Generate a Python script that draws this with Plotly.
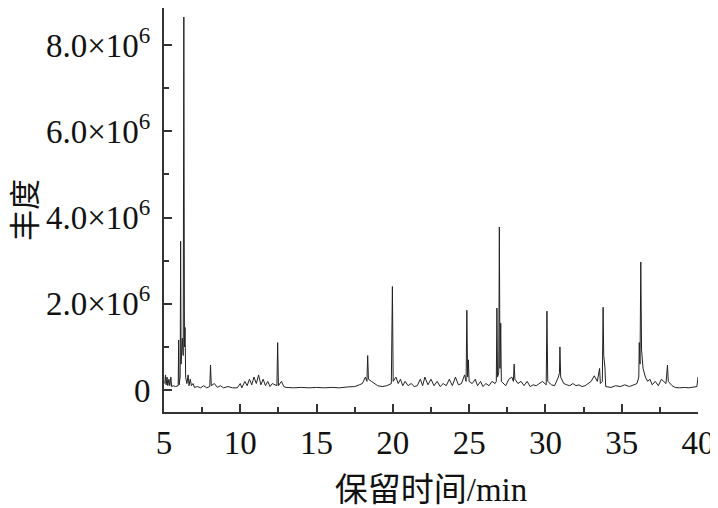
import plotly.graph_objects as go

# Retention time (min) and abundance (x1e6)
rt = [5.05, 5.1, 5.14, 5.2, 5.25, 5.32, 5.38, 5.45, 5.5, 5.6, 5.75, 5.93, 5.96, 5.99, 6.06, 6.09, 6.12, 6.2, 6.26, 6.3,
      6.34, 6.38, 6.42, 6.5, 6.58, 6.64, 6.72, 6.8, 6.9, 7.0, 7.2, 7.4, 7.6, 7.8, 8.0, 8.05, 8.1, 8.3, 8.5, 8.7,
      8.9, 9.2, 9.5, 9.8, 10.0, 10.1, 10.3, 10.45, 10.6, 10.75, 10.9, 11.05, 11.2, 11.35, 11.5, 11.65, 11.8, 11.95, 12.1, 12.4,
      12.45, 12.5, 12.7, 12.85, 13.0, 13.5, 14.0, 14.5, 15.0, 15.5, 16.0, 16.5, 17.0, 17.5, 17.8, 18.0, 18.2, 18.3, 18.35, 18.4,
      18.6, 18.8, 19.0, 19.3, 19.6, 19.9, 19.97, 20.02, 20.2, 20.35, 20.5, 20.65, 20.8, 21.0, 21.2, 21.4, 21.6, 21.8, 21.95, 22.1,
      22.3, 22.5, 22.7, 22.9, 23.1, 23.3, 23.5, 23.7, 23.9, 24.1, 24.3, 24.5, 24.7, 24.8, 24.85, 24.9, 24.95, 25.0, 25.2, 25.4,
      25.55, 25.75, 25.9, 26.1, 26.3, 26.5, 26.7, 26.78, 26.82, 26.86, 26.94, 26.98, 27.02, 27.07, 27.11, 27.4, 27.6, 27.8, 27.9, 27.95,
      28.0, 28.2, 28.4, 28.6, 28.8, 29.0, 29.2, 29.4, 29.6, 29.8, 30.05, 30.1, 30.15, 30.4, 30.6, 30.85, 30.92, 30.95, 31.0, 31.2,
      31.4, 31.6, 31.8, 32.0, 32.2, 32.4, 32.6, 32.8, 33.0, 33.2, 33.4, 33.55, 33.6, 33.73, 33.78, 33.82, 33.9, 33.95, 34.3, 34.6,
      34.9, 35.2, 35.5, 35.8, 36.0, 36.12, 36.15, 36.2, 36.25, 36.3, 36.4, 36.55, 36.7, 36.85, 37.0, 37.2, 37.4, 37.6, 37.9, 38.0,
      38.05, 38.3, 38.5, 38.8, 39.1, 39.4, 39.7, 39.93, 40.0]
abundance_e6 = [0.15, 0.35, 0.12, 0.3, 0.1, 0.25, 0.1, 0.3, 0.08, 0.1, 0.08, 0.1, 1.16, 0.12, 0.3, 3.45, 0.6, 1.2, 0.8, 8.65,
                1.0, 1.45, 0.3, 0.15, 0.35, 0.1, 0.25, 0.1, 0.15, 0.06, 0.08, 0.05, 0.1, 0.05, 0.08, 0.58, 0.1, 0.15, 0.06, 0.1,
                0.05, 0.08, 0.05, 0.05, 0.15, 0.05, 0.2, 0.1, 0.25, 0.12, 0.3, 0.15, 0.35, 0.12, 0.25, 0.1, 0.2, 0.08, 0.15, 0.1,
                1.1, 0.1, 0.2, 0.08, 0.06, 0.05, 0.06, 0.05, 0.06, 0.05, 0.06, 0.05, 0.07, 0.08, 0.12, 0.15, 0.3, 0.2, 0.8, 0.25,
                0.2, 0.15, 0.1, 0.08, 0.1, 0.15, 2.4, 0.2, 0.3, 0.15, 0.25, 0.1, 0.2, 0.1, 0.15, 0.08, 0.1, 0.25, 0.1, 0.3,
                0.12, 0.25, 0.1, 0.2, 0.08, 0.15, 0.1, 0.25, 0.1, 0.3, 0.12, 0.15, 0.35, 0.2, 1.85, 0.3, 0.7, 0.2, 0.15, 0.25,
                0.1, 0.2, 0.08, 0.15, 0.1, 0.2, 0.15, 0.2, 1.9, 0.3, 0.4, 3.78, 0.5, 1.55, 0.2, 0.1, 0.25, 0.3, 0.2, 0.6,
                0.25, 0.15, 0.2, 0.1, 0.2, 0.08, 0.12, 0.1, 0.15, 0.2, 0.12, 1.83, 0.2, 0.12, 0.1, 0.3, 0.4, 1.0, 0.3, 0.15,
                0.12, 0.1, 0.15, 0.1, 0.12, 0.08, 0.1, 0.15, 0.2, 0.33, 0.2, 0.5, 0.15, 0.2, 1.92, 0.8, 0.53, 0.08, 0.06, 0.1,
                0.08, 0.12, 0.08, 0.12, 0.15, 0.3, 1.1, 0.6, 2.97, 0.93, 0.5, 0.3, 0.2, 0.25, 0.12, 0.2, 0.1, 0.25, 0.15, 0.58,
                0.2, 0.1, 0.06, 0.05, 0.06, 0.05, 0.06, 0.08, 0.3]
abundance = [v * 1e6 for v in abundance_e6]

x_ticks = [5, 10, 15, 20, 25, 30, 35, 40]
y_ticks = [0, 2e6, 4e6, 6e6, 8e6]
y_ticktext = ["0", "2.0×10<sup>6</sup>", "4.0×10<sup>6</sup>", "6.0×10<sup>6</sup>", "8.0×10<sup>6</sup>"]
y_minor = [1e6, 3e6, 5e6, 7e6]
x_minor = [7.5, 12.5, 17.5, 22.5, 27.5, 32.5, 37.5]

fig = go.Figure(go.Scatter(x=rt, y=abundance, mode="lines",
                           line=dict(color="#222222", width=1), showlegend=False))

font_serif = "Liberation Serif"
font_title = "Liberation Serif, Noto Sans CJK SC"

# page body has an 8px margin, so the figure is 710x500
fig.update_layout(
    width=710, height=500,
    margin=dict(l=156, r=20, t=0, b=96, autoexpand=False),
    paper_bgcolor="white", plot_bgcolor="white",
    font=dict(family=font_serif, size=33, color="#111111"),
)
fig.update_xaxes(
    range=[5, 40], tickmode="array", tickvals=x_ticks, ticktext=[str(v) for v in x_ticks],
    showgrid=False, zeroline=False, showline=True, linecolor="#333333", linewidth=2,
    ticks="inside", ticklen=8, tickwidth=2, tickcolor="#333333", automargin=False,
    minor=dict(tickvals=x_minor, ticks="inside", ticklen=5, tickwidth=2, tickcolor="#333333", showgrid=False),
    tickfont=dict(family=font_serif, size=33),
    title=dict(text="保留时间/min", font=dict(family=font_title, size=33), standoff=22),
)
fig.update_yaxes(
    range=[-0.51e6, 8.86e6], tickmode="array", tickvals=y_ticks, ticktext=y_ticktext,
    showgrid=False, zeroline=False, showline=True, linecolor="#333333", linewidth=2,
    ticks="inside", ticklen=8, tickwidth=2, tickcolor="#333333", automargin=False,
    minor=dict(tickvals=y_minor, ticks="inside", ticklen=5, tickwidth=2, tickcolor="#333333", showgrid=False),
    tickfont=dict(family=font_serif, size=33), ticklabelstandoff=5,
    title=dict(text="丰度", font=dict(family=font_title, size=31), standoff=22),
)

fig.write_html("out.html")
